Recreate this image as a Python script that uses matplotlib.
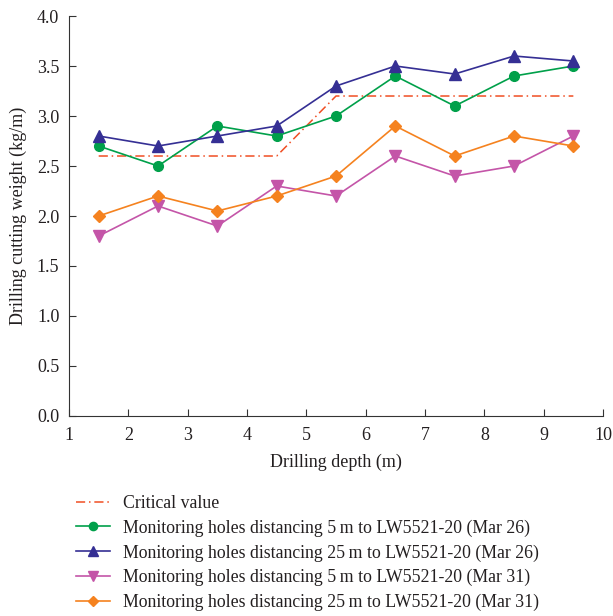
import matplotlib
matplotlib.use("Agg")
import matplotlib.pyplot as plt

depth = [1.5, 2.5, 3.5, 4.5, 5.5, 6.5, 7.5, 8.5, 9.5]
critical_x = [1.5, 4.5, 5.5, 9.5]
critical_y = [2.6, 2.6, 3.2, 3.2]
h5_mar26 = [2.7, 2.5, 2.9, 2.8, 3.0, 3.4, 3.1, 3.4, 3.5]
h25_mar26 = [2.8, 2.7, 2.8, 2.9, 3.3, 3.5, 3.42, 3.6, 3.55]
h5_mar31 = [1.8, 2.1, 1.9, 2.3, 2.2, 2.6, 2.4, 2.5, 2.8]
h25_mar31 = [2.0, 2.2, 2.05, 2.2, 2.4, 2.9, 2.6, 2.8, 2.7]
labels = ["Critical value",
          "Monitoring holes distancing 5\u2009m to LW5521-20 (Mar 26)",
          "Monitoring holes distancing 25\u2009m to LW5521-20 (Mar 26)",
          "Monitoring holes distancing 5\u2009m to LW5521-20 (Mar 31)",
          "Monitoring holes distancing 25\u2009m to LW5521-20 (Mar 31)"]

plt.rcParams['font.family'] = ['Liberation Serif', 'DejaVu Serif']
plt.rcParams['font.size'] = 13

fig = plt.figure(figsize=(6.13, 6.16), dpi=100)
ax = fig.add_axes([0.1126, 0.3247, 0.8711, 0.6493])

ax.plot(critical_x, critical_y, color='#f04e23', lw=1.1, ls=(0, (6, 2.5, 1, 2.5)), label=labels[0])
ax.plot(depth, h5_mar26, color='#00a04a', lw=1.2, marker='o', ms=7, label=labels[1])
ax.plot(depth, h25_mar26, color='#352f94', lw=1.2, marker='^', ms=8, label=labels[2])
ax.plot(depth, h5_mar31, color='#c455a8', lw=1.2, marker='v', ms=8, label=labels[3])
ax.plot(depth, h25_mar31, color='#f5821f', lw=1.2, marker='D', ms=6.5, label=labels[4])

ax.set_xlim(1, 10)
ax.set_ylim(0, 4)
ax.set_xticks(range(1, 11))
ax.set_yticks([0, 0.5, 1, 1.5, 2, 2.5, 3, 3.5, 4])
ax.set_yticklabels([f"{v:.1f}" for v in [0, 0.5, 1, 1.5, 2, 2.5, 3, 3.5, 4]])
ax.spines['top'].set_visible(False)
ax.spines['right'].set_visible(False)
for s in ['left', 'bottom']:
    ax.spines[s].set_color('#333333')
ax.tick_params(direction='in', length=5, color='#333333', labelsize=13, labelcolor='#231f20')
ax.tick_params(axis='x', pad=8)
ax.tick_params(axis='y', pad=7)
ax.set_xlabel("Drilling depth (m)", fontsize=13, color='#231f20', labelpad=7)
ax.set_ylabel("Drilling cutting weight (kg/m)", fontsize=13, color='#231f20', labelpad=7)

leg = fig.legend(loc='upper left', bbox_to_anchor=(0.112, 0.208), frameon=False,
                 fontsize=12.8, handlelength=1.9, labelspacing=0.42, handletextpad=0.75,
                 borderaxespad=0, labelcolor='#231f20', markerscale=0.85)

fig.savefig("out.png", dpi=100)
